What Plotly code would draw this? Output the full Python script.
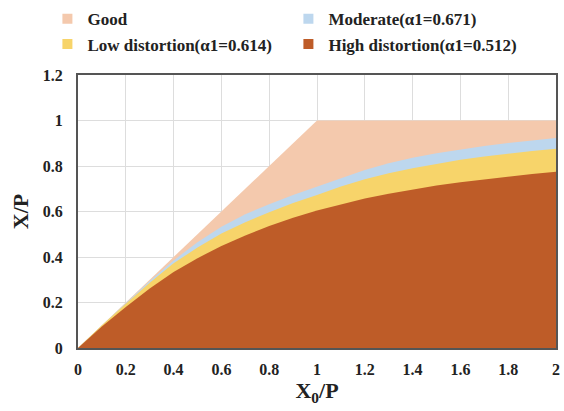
import plotly.graph_objects as go

x_vals = [0, 0.1, 0.2, 0.3, 0.4, 0.5, 0.6, 0.7, 0.8, 0.9, 1.0, 1.1, 1.2, 1.3, 1.4, 1.5, 1.6, 1.7, 1.8, 1.9, 2.0]
good = [0, 0.1, 0.2, 0.3, 0.4, 0.5, 0.6, 0.7, 0.8, 0.9, 1.0, 1.0, 1.0, 1.0, 1.0, 1.0, 1.0, 1.0, 1.0, 1.0, 1.0]
moderate = [0, 0.1, 0.198, 0.294, 0.385, 0.465, 0.533, 0.588, 0.632, 0.672, 0.708, 0.746, 0.782, 0.812, 0.836, 0.856, 0.873, 0.888, 0.901, 0.913, 0.923]
low = [0, 0.1, 0.195, 0.287, 0.372, 0.442, 0.503, 0.553, 0.597, 0.637, 0.673, 0.710, 0.742, 0.768, 0.790, 0.810, 0.827, 0.842, 0.855, 0.866, 0.876]
high = [0, 0.095, 0.18, 0.262, 0.334, 0.395, 0.448, 0.495, 0.536, 0.572, 0.604, 0.632, 0.657, 0.678, 0.697, 0.714, 0.729, 0.742, 0.754, 0.765, 0.775]

x_ticks = [0, 0.2, 0.4, 0.6, 0.8, 1, 1.2, 1.4, 1.6, 1.8, 2]
y_ticks = [0, 0.2, 0.4, 0.6, 0.8, 1, 1.2]

names = ["Good", "Moderate(α1=0.671)", "Low distortion(α1=0.614)", "High distortion(α1=0.512)"]
colors = ["#F4C9AD", "#BDD7EE", "#F7D46A", "#BE5C28"]
series = [good, moderate, low, high]

fig = go.Figure()
for name, col, ys in zip(names, colors, series):
    fig.add_trace(go.Scatter(x=x_vals, y=ys, mode="lines", fill="tozeroy",
                             fillcolor=col, line=dict(width=0, color=col),
                             showlegend=False, hoverinfo="skip"))
for name, col in zip(names, colors):
    fig.add_trace(go.Scatter(x=[None], y=[None], mode="markers", name="<b>" + name + "</b>",
                             marker=dict(symbol="square", size=10, color=col)))

font_fam = "Liberation Serif"
fig.update_layout(
    width=564, height=411,
    margin=dict(l=78, r=8, t=75, b=63, autoexpand=False),
    paper_bgcolor="white", plot_bgcolor="white",
    font=dict(family=font_fam, color="#222", size=16),
    legend=dict(orientation="h", x=-0.064, xanchor="left", y=1.27, yanchor="top",
                entrywidth=196, entrywidthmode="pixels", bgcolor="rgba(0,0,0,0)",
                font=dict(family=font_fam, size=17, color="#222"),
                tracegroupgap=0, itemwidth=30),
    showlegend=True,
)
fig.update_xaxes(range=[0, 2], tickvals=x_ticks, ticktext=["<b>%g</b>" % v for v in x_ticks],
                 showgrid=True, gridcolor="#DDDDDD", gridwidth=1, automargin=False,
                 zeroline=False, showline=True, linecolor="#555555", linewidth=2, mirror=True,
                 ticks="", ticklabelstandoff=6, tickfont=dict(family=font_fam, size=16, color="#222"),
                 title=dict(text="<b>X<sub>0</sub>/P</b>", font=dict(family=font_fam, size=22, color="#222"), standoff=2))
fig.update_yaxes(range=[0, 1.2], tickvals=y_ticks, ticktext=["<b>%g</b>" % v for v in y_ticks],
                 showgrid=True, gridcolor="#DDDDDD", gridwidth=1, automargin=False,
                 zeroline=False, showline=True, linecolor="#555555", linewidth=2, mirror=True,
                 ticks="", ticklabelstandoff=10, tickfont=dict(family=font_fam, size=16, color="#222"),
                 title=dict(text="<b>X/P</b>", font=dict(family=font_fam, size=22, color="#222"), standoff=8))
fig.write_html("out.html", config={"displayModeBar": False},
               post_script="document.body.style.margin='0';document.body.style.overflow='hidden';")
